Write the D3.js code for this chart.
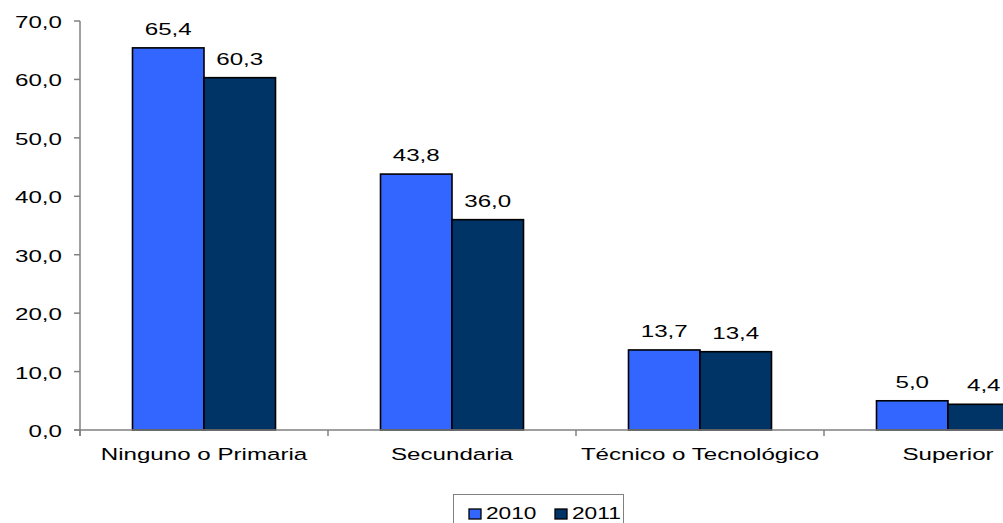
<!DOCTYPE html>
<html><head><meta charset="utf-8">
<script src="https://cdn.jsdelivr.net/npm/d3@7"></script>
<style>html,body{margin:0;padding:0;background:#fff;overflow:hidden}</style>
</head><body>
<script>
const categories = ["Ninguno o Primaria", "Secundaria", "Técnico o Tecnológico", "Superior"];
const seriesNames = ["2010", "2011"];
const values2010 = [65.4, 43.8, 13.7, 5.0];
const values2011 = [60.3, 36.0, 13.4, 4.4];
const yTicks = [0, 10, 20, 30, 40, 50, 60, 70];
const colors = ["#3366FF", "#003366"];

const W = 1003, H = 523;
const svg = d3.select("body").append("svg").attr("width", W).attr("height", H);
const fmt = v => d3.format(".1f")(v).replace(".", ",");
const SX = 1.42, FS = 17, FONT = "Liberation Sans, Arial, sans-serif";

function stext(g, x, y, str, anchor, fs) {
  return g.append("text")
    .attr("transform", `translate(${x},${y}) scale(${SX},1)`)
    .attr("text-anchor", anchor || "middle")
    .attr("font-family", FONT).attr("font-size", fs || FS).attr("fill", "#000")
    .text(str);
}

const x0 = d3.scaleBand().domain(categories).range([80, 80 + 4 * 248]).padding(0);
const x1 = d3.scaleBand().domain(seriesNames).range([52.5, 195.5]).padding(0);
const y = d3.scaleLinear().domain([0, 70]).range([430, 21]);

const data = categories.map((c, i) => ({cat: c, vals: [values2010[i], values2011[i]]}));

// bars
const groups = svg.append("g").selectAll("g").data(data).join("g")
  .attr("transform", d => `translate(${x0(d.cat)},0)`);
groups.selectAll("rect").data(d => d.vals.map((v, j) => ({v, s: seriesNames[j], j})))
  .join("rect")
  .attr("x", d => x1(d.s)).attr("width", x1.bandwidth())
  .attr("y", d => y(d.v)).attr("height", d => y(0) - y(d.v))
  .attr("fill", d => colors[d.j]).attr("stroke", "#000").attr("stroke-width", 1.6);

// value labels
const lab = svg.append("g");
data.forEach(d => {
  d.vals.forEach((v, j) => {
    stext(lab, x0(d.cat) + x1(seriesNames[j]) + x1.bandwidth() / 2, y(v) - 13, fmt(v));
  });
});

// y axis
const ya = svg.append("g");
ya.append("line").attr("x1", 80).attr("x2", 80).attr("y1", y(70)).attr("y2", y(0) + 6)
  .attr("stroke", "#808080").attr("stroke-width", 1.5);
yTicks.forEach(t => {
  ya.append("line").attr("x1", 74).attr("x2", 80).attr("y1", y(t)).attr("y2", y(t))
    .attr("stroke", "#808080").attr("stroke-width", 1.5);
  stext(ya, 62, y(t) + 7, fmt(t), "end");
});

// x axis
const xa = svg.append("g");
xa.append("line").attr("x1", 74).attr("x2", W).attr("y1", y(0)).attr("y2", y(0))
  .attr("stroke", "#808080").attr("stroke-width", 1.5);
categories.forEach((c, i) => {
  const xx = x0(c);
  xa.append("line").attr("x1", xx).attr("x2", xx).attr("y1", y(0)).attr("y2", y(0) + 6)
    .attr("stroke", "#808080").attr("stroke-width", 1.5);
  stext(xa, xx + x0.bandwidth() / 2, 460, c);
});

// legend
const lg = svg.append("g");
lg.append("rect").attr("x", 453.5).attr("y", 494.5).attr("width", 170).attr("height", 40)
  .attr("fill", "#fff").attr("stroke", "#808080").attr("stroke-width", 1);
const lx = [469, 555];
seriesNames.forEach((s, j) => {
  lg.append("rect").attr("x", lx[j]).attr("y", 509).attr("width", 12).attr("height", 10)
    .attr("fill", colors[j]).attr("stroke", "#000").attr("stroke-width", 1.3);
  stext(lg, lx[j] + 17, 519, s, "start", 16);
});
</script>
</body></html>
